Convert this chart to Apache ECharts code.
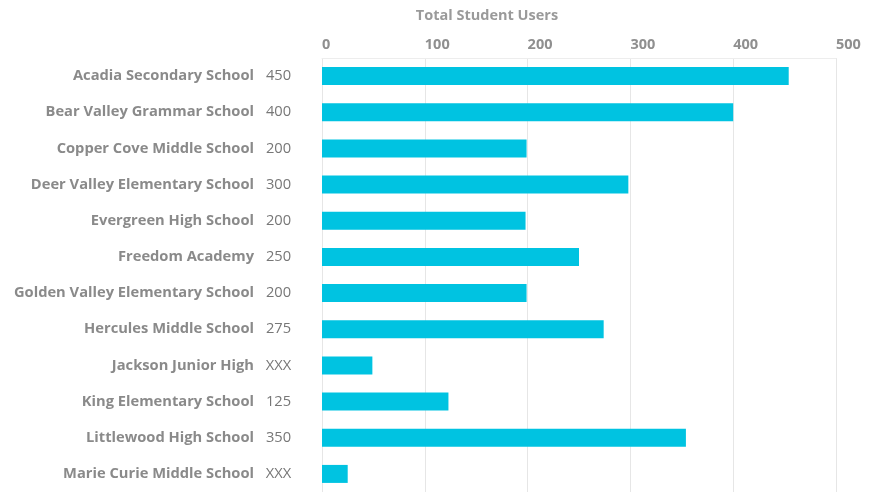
<!DOCTYPE html>
<html lang="en">
	<head>
		<meta charset="UTF-8">
		<title>Total Student Users</title>
		<style type="text/css">
			html,
			body,
			.canvas {
				padding: 0;
				margin: 0;
				overflow: hidden;
				background-color: #ffffff;
				width: 100%;
				height: 100%;
			}
		</style>
	</head>
	<body>
		<div class="canvas" id="chart"></div>
		<script type="text/javascript" src="https://cdn.jsdelivr.net/npm/echarts@6/dist/echarts.min.js"></script>
		<script>
			// data
			const schools = [
				'Acadia Secondary School',
				'Bear Valley Grammar School',
				'Copper Cove Middle School',
				'Deer Valley Elementary School',
				'Evergreen High School',
				'Freedom Academy',
				'Golden Valley Elementary School',
				'Hercules Middle School',
				'Jackson Junior High',
				'King Elementary School',
				'Littlewood High School',
				'Marie Curie Middle School'
			]
			const userLabels = ['450', '400', '200', '300', '200', '250', '200', '275', 'XXX', '125', '350', 'XXX']
			const users = [454, 400, 199, 298, 198, 250, 199, 274, 49, 123, 354, 25]
			const xTicks = [0, 100, 200, 300, 400, 500]

			const chart = echarts.init(document.getElementById('chart'))

			const option = {
				animation: false,
				title: {
					text: 'Total Student Users',
					left: 482,
					top: 3,
					textAlign: 'center',
					textStyle: {
						fontFamily: 'Open Sans',
						fontSize: 14.5,
						fontWeight: 'bold',
						color: '#9a9a9a'
					}
				},
				grid: {
					left: 322,
					top: 58,
					width: 514,
					height: 437
				},
				xAxis: {
					type: 'value',
					position: 'top',
					min: xTicks[0],
					max: xTicks[xTicks.length - 1],
					interval: 100,
					axisLine: { show: true, lineStyle: { color: '#ededed' } },
					axisTick: { show: false },
					splitLine: { show: true, lineStyle: { color: '#e6e6e6' } },
					axisLabel: {
						align: 'left',
						margin: 6,
						fontFamily: 'Open Sans',
						fontSize: 14.5,
						fontWeight: 'bold',
						color: '#8f8f8f'
					}
				},
				yAxis: {
					type: 'category',
					inverse: true,
					data: schools,
					axisLine: { show: false },
					axisTick: { show: false },
					splitLine: { show: false },
					axisLabel: {
						margin: 28,
						formatter: function(value, idx) {
							return '{n|' + value + '}{v|' + userLabels[idx] + '}'
						},
						rich: {
							n: {
								fontFamily: 'Open Sans',
								fontSize: 14.7,
								fontWeight: 'bold',
								color: '#8a8a8a',
								padding: [0, 9, 0, 0]
							},
							v: {
								fontFamily: 'Open Sans',
								fontSize: 14.7,
								color: '#777777',
								width: 31,
								align: 'left'
							}
						}
					}
				},
				series: [{
					type: 'bar',
					data: users,
					barWidth: 18,
					itemStyle: { color: '#00c3e1' }
				}]
			}

			chart.setOption(option)
		</script>
	</body>
</html>
